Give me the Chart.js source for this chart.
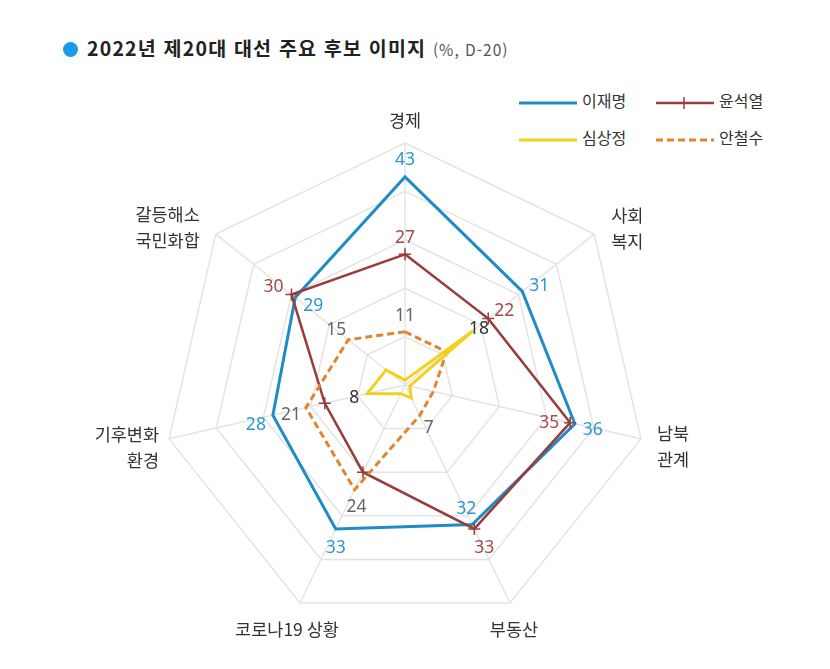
<!DOCTYPE html>
<html lang="ko">
<head>
<meta charset="utf-8">
<script src="https://cdn.jsdelivr.net/npm/chart.js@4.4.1/dist/chart.umd.min.js"></script>
<style>
  body { margin: 0; background: #fff; width: 830px; height: 669px; overflow: hidden; font-family: 'Noto Sans CJK KR', 'Noto Sans', sans-serif; }
  #wrap { position: absolute; left: 0; top: 0; width: 830px; height: 669px; }
  #title { position: absolute; left: 63px; top: 34px; font-size: 19.5px; font-weight: bold; color: #222; white-space: nowrap; line-height: 28px; letter-spacing: 1.2px; }
  #title .dot { display: inline-block; width: 15px; height: 15px; border-radius: 50%; background: #1a9be6; margin-right: 9px; vertical-align: -1px; }
  #title .sub { font-size: 15.5px; font-weight: normal; color: #555; letter-spacing: 1px; }
  #legend { position: absolute; left: 518px; top: 86px; font-size: 16px; color: #333; }
  #legend .item { position: absolute; white-space: nowrap; line-height: 28px; }
  #legend svg { vertical-align: middle; margin-right: 4px; }
</style>
</head>
<body>
<div id="title"><span class="dot"></span>2022년 제20대 대선 주요 후보 이미지 <span class="sub">(%, D-20)</span></div>
<div id="legend"></div>
<div id="wrap"><canvas id="myChart"></canvas></div>
<script>
// 데이터
const categories = ['경제', ['사회', '복지'], ['남북', '관계'], '부동산', '코로나19 상황', ['기후변화', '환경'], ['갈등해소', '국민화합']];
const candidates = ['이재명', '윤석열', '심상정', '안철수'];
const leeValues = [43, 31, 36, 32, 33, 28, 29];
const yoonValues = [27, 22, 35, 33, 20, 17, 30];
const simValues = [1, 18, 1, 3, 2, 8, 5];
const ahnValues = [11, 11, 6, 7, 24, 21, 15];
const scaleMax = 50;
const scaleStep = 10;

// 값 라벨 위치 (점 기준 오프셋, null 이면 표시 안함)
const labelOffsets = [
    [[0, -17], [17, -5], [18, 6], [-6, -16], [0, 19], [-17, 10], [18, 9]],
    [[0, -16], [16, -8], [-21, 0], [10, 19], null, null, [-18, -7]],
    [null, [6, -2], null, null, null, [-13, 4], null],
    [[0, -16], null, null, [9, 12], [2, 17], [-15, 7], [-12, -10]]
];
const labelColors = ['#2b98cf', '#a34a4a', '#333333', '#666666'];

// 축 라벨 위치 (바깥 꼭짓점 기준)
const axisLabelPos = [
    { align: 'center', dx: 0, dy: -23 },
    { align: 'left', dx: 17, dy: -19 },
    { align: 'left', dx: 16, dy: -6 },
    { align: 'center', dx: 4, dy: 26 },
    { align: 'center', dx: -13, dy: 26 },
    { align: 'right', dx: -10, dy: -5 },
    { align: 'right', dx: -16, dy: -20 }
];

var valueLabels = {
    id: 'valueLabels',
    afterDatasetsDraw: function (chart) {
        var ctx = chart.ctx;
        chart.data.datasets.forEach(function (ds, di) {
            var meta = chart.getDatasetMeta(di);
            meta.data.forEach(function (pt, i) {
                var off = labelOffsets[di][i];
                if (!off) return;
                ctx.save();
                ctx.font = '17.5px "Noto Sans", sans-serif';
                ctx.fillStyle = labelColors[di];
                ctx.textAlign = 'center';
                ctx.textBaseline = 'middle';
                ctx.fillText(ds.data[i], pt.x + off[0], pt.y + off[1]);
                ctx.restore();
            });
        });
    }
};

var axisLabels = {
    id: 'axisLabels',
    afterDraw: function (chart) {
        var ctx = chart.ctx;
        var scale = chart.scales.r;
        ctx.save();
        ctx.font = '17.5px "Noto Sans CJK KR", sans-serif';
        ctx.fillStyle = '#333';
        ctx.textBaseline = 'middle';
        chart.data.labels.forEach(function (lab, i) {
            var p = scale.getPointPosition(i, scale.drawingArea);
            var lines = Array.isArray(lab) ? lab : [lab];
            ctx.textAlign = axisLabelPos[i].align;
            lines.forEach(function (t, j) {
                ctx.fillText(t, p.x + axisLabelPos[i].dx, p.y + axisLabelPos[i].dy + j * 26);
            });
        });
        ctx.restore();
    }
};

var data = {
    labels: categories,
    datasets: [{
        label: candidates[0],
        data: leeValues,
        borderColor: '#1f8cc6',
        borderWidth: 3,
        pointRadius: 0,
        fill: false,
        order: 4
    }, {
        label: candidates[1],
        data: yoonValues,
        borderColor: '#983c3c',
        borderWidth: 2.5,
        pointStyle: 'cross',
        pointRadius: 6,
        pointBorderWidth: 1.5,
        pointBorderColor: '#983c3c',
        fill: false,
        order: 3
    }, {
        label: candidates[2],
        data: simValues,
        borderColor: '#f0d21c',
        borderWidth: 3,
        pointRadius: 0,
        fill: false,
        order: 1
    }, {
        label: candidates[3],
        data: ahnValues,
        borderColor: '#e3832f',
        borderWidth: 3,
        borderDash: [7, 4],
        pointRadius: 0,
        fill: false,
        order: 2
    }]
};

var options = {
    responsive: true,
    maintainAspectRatio: false,
    animation: false,
    layout: { padding: { left: 163, right: 182, top: 143, bottom: 42 } },
    plugins: { legend: { display: false }, tooltip: { enabled: false } },
    elements: { line: { tension: 0 } },
    scales: {
        r: {
            min: 0,
            max: scaleMax,
            ticks: { stepSize: scaleStep, display: false },
            grid: { color: '#e4e4e4', lineWidth: 1.5 },
            angleLines: { color: '#e4e4e4', lineWidth: 1.5 },
            pointLabels: { display: false }
        }
    }
};

var ctx = document.getElementById('myChart').getContext('2d');
var myChart = new Chart(ctx, { type: 'radar', data: data, options: options, plugins: [valueLabels, axisLabels] });

// 범례 (HTML)
var legend = document.getElementById('legend');
var legendPos = [[0, 0], [137, 0], [0, 37], [137, 37]];
data.datasets.forEach(function (ds, i) {
    var dash = ds.borderDash ? 'stroke-dasharray="' + ds.borderDash.join(',') + '"' : '';
    var mark = ds.pointStyle === 'cross' ? '<line x1="29" y1="4" x2="29" y2="16" stroke="' + ds.borderColor + '" stroke-width="1.5"/>' : '';
    var item = document.createElement('div');
    item.className = 'item';
    item.style.left = legendPos[i][0] + 'px';
    item.style.top = legendPos[i][1] + 'px';
    item.innerHTML = '<svg width="60" height="20"><line x1="1" y1="10" x2="59" y2="10" stroke="' + ds.borderColor +
        '" stroke-width="' + ds.borderWidth + '" ' + dash + '/>' + mark + '</svg>' + ds.label;
    legend.appendChild(item);
});
</script>
</body>
</html>
